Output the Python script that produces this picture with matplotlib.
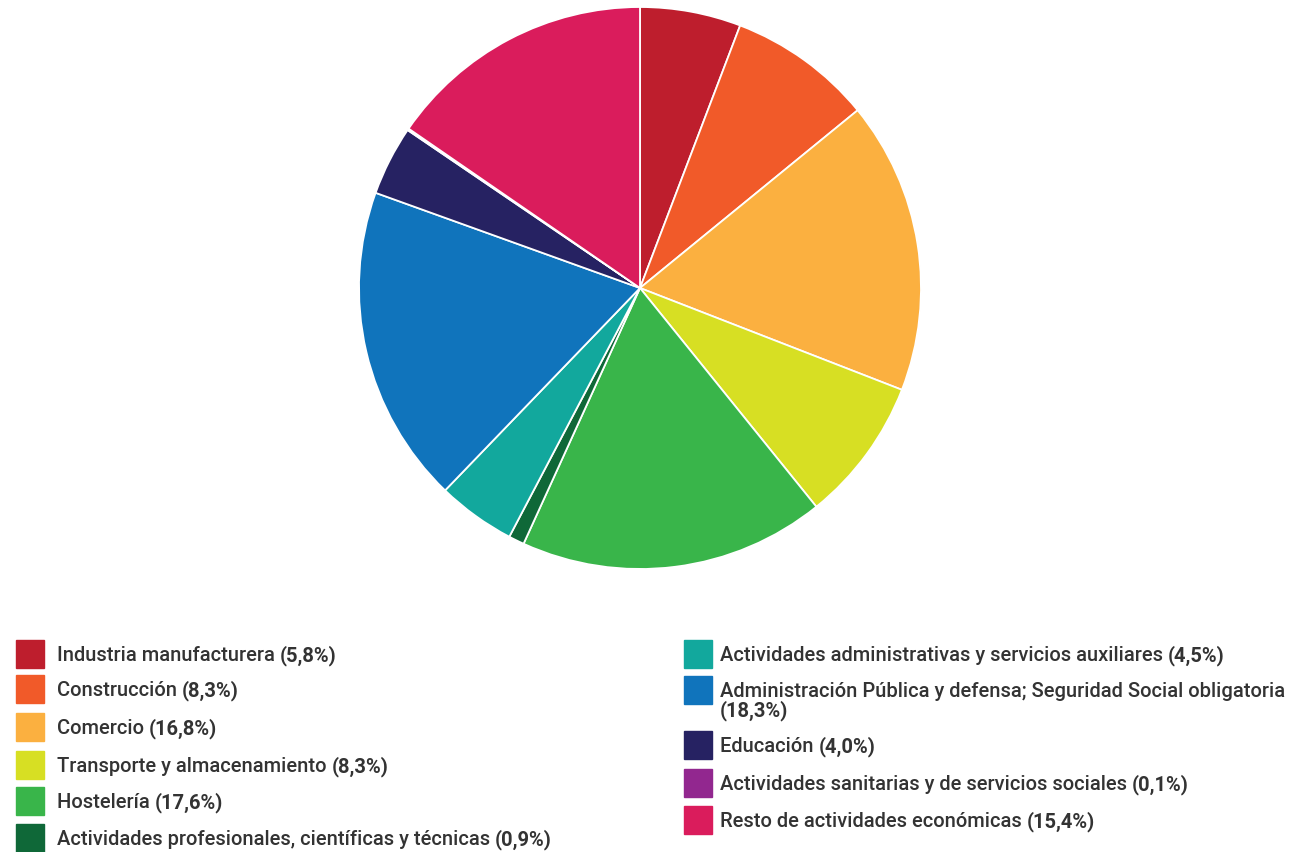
import matplotlib.pyplot as plt
from matplotlib.patches import Rectangle

plt.rcParams['font.family'] = ['Roboto', 'DejaVu Sans']

labels = ['Industria manufacturera', 'Construcción', 'Comercio',
          'Transporte y almacenamiento', 'Hostelería',
          'Actividades profesionales, científicas y técnicas',
          'Actividades administrativas y servicios auxiliares',
          'Administración Pública y defensa; Seguridad Social obligatoria',
          'Educación', 'Actividades sanitarias y de servicios sociales',
          'Resto de actividades económicas']
values = [5.8, 8.3, 16.8, 8.3, 17.6, 0.9, 4.5, 18.3, 4.0, 0.1, 15.4]
colors = ['#BE1E2D', '#F15A29', '#FBB040', '#D7DF23', '#39B54A', '#0F6838',
          '#12A89D', '#1074BC', '#262262', '#92278F', '#DA1C5C']

W, H = 1305, 853
fig = plt.figure(figsize=(W / 100, H / 100), dpi=100)
ax = fig.add_axes([(640 - 281) / W, (H - 570) / H, 562 / W, 562 / H])
ax.pie(values, colors=colors, startangle=90, counterclock=False,
       wedgeprops=dict(edgecolor='white', linewidth=1.3))
ax.set_xlim(-1, 1)
ax.set_ylim(-1, 1)
ax.set_aspect('equal')

def fmt(v):
    return '(' + f'{v:.1f}'.replace('.', ',') + '%)'

# legend positions in pixels: (square x, text x, row center y)
rows = [(16, 57, 655), (16, 57, 690), (16, 57, 728), (16, 57, 766),
        (16, 57, 802), (16, 57, 839),
        (684, 720, 655), (684, 720, 691), (684, 720, 746),
        (684, 720, 784), (684, 720, 821)]
tc = '#333333'
fs = 14.5
for i, (sx, tx, cy) in enumerate(rows):
    fig.patches.append(Rectangle((sx / W, (H - cy - 14) / H), 28 / W, 28 / H,
                                 transform=fig.transFigure, color=colors[i]))
    if i == 7:
        fig.text(tx / W, 1 - (cy + 1) / H, labels[i], fontsize=fs, color=tc,
                 va='center', ha='left', fontweight='medium')
        fig.text(tx / W, 1 - (cy + 20) / H, fmt(values[i]), fontsize=fs,
                 color=tc, va='center', ha='left', fontweight='bold')
    else:
        t = fig.text(tx / W, 1 - (cy + 1) / H, labels[i] + ' ', fontsize=fs,
                     color=tc, va='center', ha='left', fontweight='medium')
        ax.annotate(fmt(values[i]), xy=(1, 0.5), xycoords=t, fontsize=fs,
                    color=tc, va='center', ha='left', fontweight='bold',
                    annotation_clip=False)

fig.savefig('out.png', dpi=100)
